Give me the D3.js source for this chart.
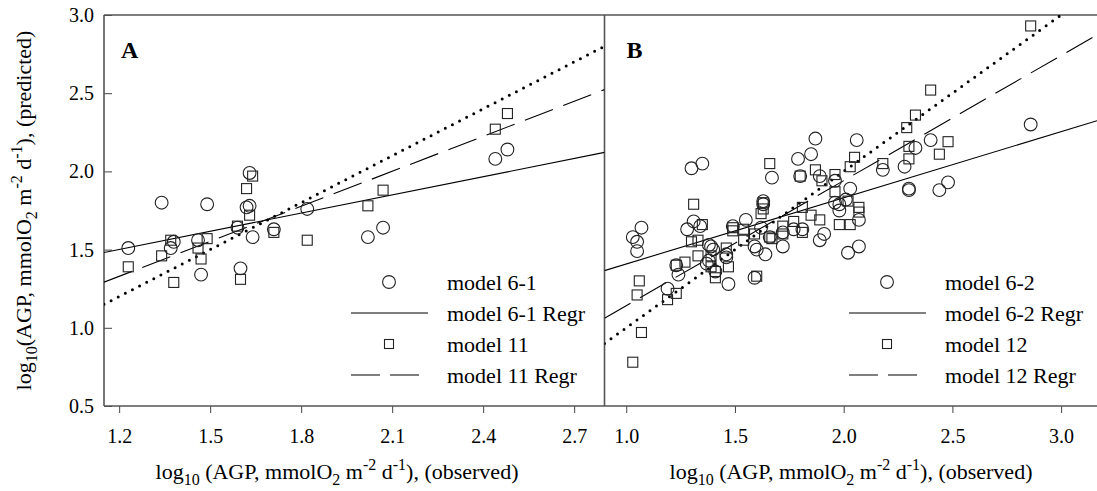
<!DOCTYPE html>
<html>
<head>
<meta charset="utf-8">
<script src="https://cdn.jsdelivr.net/npm/d3@7"></script>
<style>
  body { margin: 0; background: #fff; }
  text { font-family: "Liberation Serif", "Times New Roman", serif; fill: #000; }
</style>
</head>
<body>
<svg id="chart"></svg>
<script>
// Panel A: observed vs predicted (model 6-1 circles, model 11 squares)
const circlesA = [[1.23,1.51],[1.34,1.80],[1.49,1.79],[1.37,1.51],[1.38,1.55],[1.46,1.56],[1.63,1.99],
  [1.62,1.77],[1.63,1.78],[1.59,1.64],[1.64,1.58],[1.71,1.63],[1.82,1.76],[2.02,1.58],[2.07,1.64],
  [2.44,2.08],[2.48,2.14],[1.47,1.34],[1.60,1.38]];
const squaresA = [[1.34,1.46],[1.37,1.56],[1.46,1.51],[1.49,1.57],[1.47,1.44],[1.59,1.65],[1.62,1.89],
  [1.64,1.97],[1.63,1.72],[1.71,1.61],[1.82,1.56],[2.02,1.78],[2.07,1.88],[2.44,2.27],[2.48,2.37],
  [1.23,1.39],[1.38,1.29],[1.60,1.31]];

// Panel B: model 6-2 circles, model 12 squares
const circlesB = [[1.03,1.58],[1.05,1.55],[1.05,1.49],[1.07,1.64],[1.19,1.25],[1.23,1.40],[1.24,1.34],
  [1.28,1.63],[1.30,2.02],[1.31,1.68],[1.34,1.65],[1.35,2.05],[1.37,1.41],[1.38,1.53],[1.39,1.52],
  [1.40,1.50],[1.38,1.43],[1.41,1.36],[1.46,1.47],[1.46,1.45],[1.47,1.28],[1.49,1.65],[1.55,1.69],
  [1.59,1.32],[1.59,1.52],[1.60,1.50],[1.62,1.64],[1.63,1.81],[1.63,1.79],[1.64,1.47],[1.66,1.58],
  [1.67,1.96],[1.72,1.52],[1.72,1.61],[1.77,1.63],[1.79,2.08],[1.80,1.97],[1.81,1.63],[1.85,2.11],
  [1.87,2.21],[1.89,1.97],[1.89,1.56],[1.91,1.60],[1.96,1.94],[1.96,1.80],[1.98,1.79],[1.98,1.75],
  [2.01,1.82],[2.02,1.48],[2.03,1.89],[2.06,2.20],[2.07,1.52],[2.07,1.69],[2.18,2.01],[2.28,2.03],
  [2.30,1.89],[2.30,1.88],[2.33,2.15],[2.40,2.20],[2.44,1.88],[2.48,1.93],[2.86,2.30]];
const squaresB = [[1.03,0.78],[1.07,0.97],[1.05,1.21],[1.06,1.30],[1.19,1.18],[1.23,1.22],[1.23,1.40],
  [1.27,1.42],[1.30,1.55],[1.33,1.56],[1.33,1.46],[1.31,1.79],[1.35,1.66],[1.39,1.39],[1.41,1.36],
  [1.41,1.32],[1.39,1.46],[1.46,1.51],[1.47,1.39],[1.49,1.64],[1.49,1.62],[1.54,1.56],[1.54,1.63],
  [1.59,1.60],[1.60,1.33],[1.63,1.80],[1.63,1.76],[1.62,1.73],[1.66,1.58],[1.66,2.05],[1.67,1.57],
  [1.72,1.65],[1.72,1.60],[1.77,1.68],[1.80,1.97],[1.81,1.77],[1.81,1.61],[1.85,1.72],[1.87,2.01],
  [1.89,1.69],[1.90,1.94],[1.96,1.98],[1.96,1.87],[1.98,1.66],[2.02,1.81],[2.03,2.03],[2.03,1.66],
  [2.05,2.09],[2.07,1.77],[2.07,1.74],[2.18,2.05],[2.29,2.28],[2.30,2.16],[2.30,2.08],[2.33,2.36],
  [2.40,2.52],[2.44,2.11],[2.48,2.19],[2.86,2.93]];

// regression lines [intercept, slope]
const regA61 = [1.035, 0.388];
const regA11 = [0.434, 0.746];
const regB62 = [0.985, 0.423];
const regB12 = [0.341, 0.800];

const ticksA = [1.2, 1.5, 1.8, 2.1, 2.4, 2.7];
const ticksB = [1.0, 1.5, 2.0, 2.5, 3.0];
const ticksY = [0.5, 1.0, 1.5, 2.0, 2.5, 3.0];

const legendA = ["model 6-1", "model 6-1 Regr", "model 11", "model 11 Regr"];
const legendB = ["model 6-2", "model 6-2 Regr", "model 12", "model 12 Regr"];

const W = 1097, H = 491;
const plotTop = 15, plotBottom = 406, plotLeft = 104, mid = 604.5;

const svg = d3.select("#chart").attr("width", W).attr("height", H);

const y = d3.scaleLinear().domain([0.5, 3.0]).range([plotBottom, plotTop]);
const xA = d3.scaleLinear().domain([1.15, 2.8]).range([plotLeft, mid]);
const xB = d3.scaleLinear().domain([0.9, 3.165]).range([mid, W]);

// clip paths
const defs = svg.append("defs");
defs.append("clipPath").attr("id", "clipA").append("rect")
  .attr("x", plotLeft).attr("y", plotTop).attr("width", mid - plotLeft).attr("height", plotBottom - plotTop);
defs.append("clipPath").attr("id", "clipB").append("rect")
  .attr("x", mid).attr("y", plotTop).attr("width", W - mid).attr("height", plotBottom - plotTop);

// y axis (ticks point inward)
const yAxis = svg.append("g")
  .attr("transform", `translate(${plotLeft},0)`)
  .call(d3.axisLeft(y).tickValues(ticksY).tickFormat(d3.format(".1f"))
    .tickSizeInner(-8).tickSizeOuter(0).tickPadding(10));
yAxis.select(".domain").remove();
yAxis.selectAll("line").attr("stroke", "#444");
yAxis.selectAll("text").style("font-size", "20px");

function xAxis(scale, ticks) {
  const g = svg.append("g")
    .attr("transform", `translate(0,${plotBottom})`)
    .call(d3.axisBottom(scale).tickValues(ticks).tickFormat(d3.format(".1f"))
      .tickSizeInner(7).tickSizeOuter(0).tickPadding(16));
  g.select(".domain").remove();
  g.selectAll("line").attr("stroke", "#444");
  g.selectAll("text").style("font-size", "20px");
}
xAxis(xA, ticksA);
xAxis(xB, ticksB);

// frame
const frame = svg.append("g").attr("stroke", "#555").attr("stroke-width", 1.6).attr("fill", "none");
frame.append("line").attr("x1", plotLeft).attr("x2", W).attr("y1", plotTop).attr("y2", plotTop);
frame.append("line").attr("x1", plotLeft).attr("x2", W).attr("y1", plotBottom).attr("y2", plotBottom);
frame.append("line").attr("x1", plotLeft).attr("x2", plotLeft).attr("y1", plotTop).attr("y2", plotBottom);
frame.append("line").attr("x1", mid).attr("x2", mid).attr("y1", plotTop).attr("y2", plotBottom);

function panel(x, clip, circles, squares, regSolid, regDash, letter, legend, lx) {
  const g = svg.append("g").attr("clip-path", `url(#${clip})`);
  const [d0, d1] = x.domain();

  // 1:1 dotted line
  g.append("line")
    .attr("x1", x(d0)).attr("y1", y(d0)).attr("x2", x(d1)).attr("y2", y(d1))
    .attr("stroke", "#000").attr("stroke-width", 3)
    .attr("stroke-linecap", "round").attr("stroke-dasharray", "0,8");

  g.append("line")
    .attr("x1", x(d0)).attr("y1", y(regSolid[0] + regSolid[1] * d0))
    .attr("x2", x(d1)).attr("y2", y(regSolid[0] + regSolid[1] * d1))
    .attr("stroke", "#000").attr("stroke-width", 1.1);

  g.append("line")
    .attr("x1", x(d0)).attr("y1", y(regDash[0] + regDash[1] * d0))
    .attr("x2", x(d1)).attr("y2", y(regDash[0] + regDash[1] * d1))
    .attr("stroke", "#000").attr("stroke-width", 1.1).attr("stroke-dasharray", "30,11");

  g.selectAll(".sq")
    .data(squares)
    .join("rect")
    .attr("x", d => x(d[0]) - 5).attr("y", d => y(d[1]) - 5)
    .attr("width", 10).attr("height", 10)
    .attr("fill", "none").attr("stroke", "#222").attr("stroke-width", 1.1);

  g.selectAll(".ci")
    .data(circles)
    .join("circle")
    .attr("cx", d => x(d[0])).attr("cy", d => y(d[1])).attr("r", 6.4)
    .attr("fill", "none").attr("stroke", "#222").attr("stroke-width", 1.1);

  svg.append("text")
    .attr("x", x(d0) + (letter === "A" ? 17 : 22)).attr("y", 58)
    .style("font-size", "24px").style("font-weight", "bold")
    .text(letter);

  // legend
  const rows = [282, 313, 344, 375];
  const lg = svg.append("g");
  lg.append("circle").attr("cx", lx).attr("cy", rows[0]).attr("r", 6.4)
    .attr("fill", "none").attr("stroke", "#222").attr("stroke-width", 1.1);
  lg.append("line").attr("x1", lx - 38).attr("x2", lx + 39).attr("y1", rows[1]).attr("y2", rows[1])
    .attr("stroke", "#000").attr("stroke-width", 1.1);
  lg.append("rect").attr("x", lx - 4.5).attr("y", rows[2] - 4.5).attr("width", 9).attr("height", 9)
    .attr("fill", "none").attr("stroke", "#222").attr("stroke-width", 1.1);
  lg.append("line").attr("x1", lx - 38).attr("x2", lx + 30).attr("y1", rows[3]).attr("y2", rows[3])
    .attr("stroke", "#000").attr("stroke-width", 1.1).attr("stroke-dasharray", "29,10");
  lg.selectAll(".lt")
    .data(legend)
    .join("text")
    .attr("x", lx + 58).attr("y", (d, i) => rows[i] + 8)
    .style("font-size", "22px")
    .text(d => d);
}

panel(xA, "clipA", circlesA, squaresA, regA61, regA11, "A", legendA, 389);
panel(xB, "clipB", circlesB, squaresB, regB62, regB12, "B", legendB, 887);

// axis titles with sub/superscripts
function addUnits(t, first, last) {
  t.append("tspan").text("log");
  t.append("tspan").text("10").attr("dy", 6).style("font-size", "16px");
  t.append("tspan").text(first).attr("dy", -6);
  t.append("tspan").text("2").attr("dy", 6).style("font-size", "16px");
  t.append("tspan").text(" m").attr("dy", -6);
  t.append("tspan").text("-2").attr("dy", -9).style("font-size", "16px");
  t.append("tspan").text(" d").attr("dy", 9);
  t.append("tspan").text("-1").attr("dy", -9).style("font-size", "16px");
  t.append("tspan").text(last).attr("dy", 9);
}
[337, 851].forEach(cx => {
  const t = svg.append("text").attr("x", cx).attr("y", 479)
    .attr("text-anchor", "middle").style("font-size", "22px");
  addUnits(t, " (AGP, mmolO", "), (observed)");
});

const yt = svg.append("text")
  .attr("transform", `translate(31,${(plotTop + plotBottom) / 2}) rotate(-90)`)
  .attr("text-anchor", "middle").style("font-size", "22px");
addUnits(yt, "(AGP, mmolO", "), (predicted)");
</script>
</body>
</html>
